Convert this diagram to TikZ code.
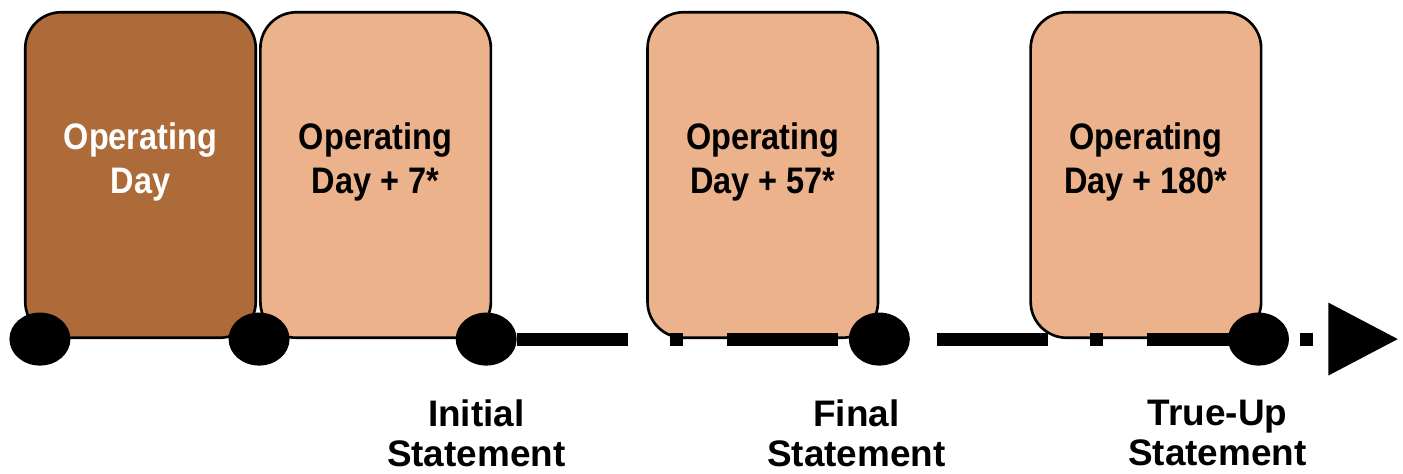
\documentclass[tikz,border=0pt]{standalone}
\usepackage{fontspec}
\setmainfont{Liberation Sans}
\newfontfamily\daybodyfont[FakeStretch=0.88]{Liberation Sans}
\usetikzlibrary{arrows.meta, positioning, shapes.geometric}

\definecolor{darkday}{RGB}{173,107,57}
\definecolor{lightday}{RGB}{235,178,139}

\begin{document}
\begin{tikzpicture}[
    node distance=0.04cm,
    daybox/.style={rectangle, draw, line width=1.5pt, fill=lightday, rounded corners=0.72cm, minimum width=4.61cm, minimum height=6.51cm},
    daytext/.style={align=center, font=\daybodyfont\fontsize{21}{25}\selectfont\bfseries, inner sep=0pt},
    milestone/.style={ellipse, fill=black, inner sep=0pt, minimum width=1.22cm, minimum height=1.06cm},
    stmt/.style={align=center, font=\fontsize{21}{23}\selectfont\bfseries, inner sep=0pt},
    timeline/.style={line width=0.26cm, dash pattern=on 2.22cm off 0.84cm on 0.26cm off 0.88cm, -{Triangle[length=1.4cm, width=1.38cm]}}
]
    \useasboundingbox (0,0) rectangle (28.06,-9.46);

    \node[daybox, fill=darkday] (day0) at (2.81,-3.5) {};
    \node[daybox, right=of day0] (day7) {};
    \node[daybox, right=3.08cm of day7] (day57) {};
    \node[daybox, right=3.0cm of day57] (day180) {};

    \node[daytext, text=white] (txt0) at ([yshift=0.27cm]day0.center) {Operating\\Day};
    \node[daytext] (txt7) at ([yshift=0.27cm]day7.center) {Operating\\Day + 7*};
    \node[daytext] (txt57) at ([yshift=0.27cm]day57.center) {Operating\\Day + 57*};
    \node[daytext] (txt180) at ([yshift=0.27cm]day180.center) {Operating\\Day + 180*};

    \node[milestone] (opday) at ([xshift=0.32cm]day0.south west) {};
    \node[milestone] (weekday) at (day7.south west) {};
    \node[milestone] (initial) at ([xshift=-0.12cm]day7.south east) {};
    \node[milestone] (final) at (day57.south east) {};
    \node[milestone] (trueup) at ([xshift=-0.08cm]day180.south east) {};

    \coordinate (tipend) at ([xshift=2.8cm]trueup.center);
    \draw[timeline] (initial.east) -- (tipend);

    \node[stmt, below=0.67cm of initial, xshift=-0.2cm] (lblinit) {Initial\\Statement};
    \node[stmt, below=0.67cm of final, xshift=-0.46cm] (lblfinal) {Final\\Statement};
    \node[stmt, below=0.67cm of trueup, xshift=-0.82cm] (lbltrue) {True-Up\\Statement};

\end{tikzpicture}
\end{document}
